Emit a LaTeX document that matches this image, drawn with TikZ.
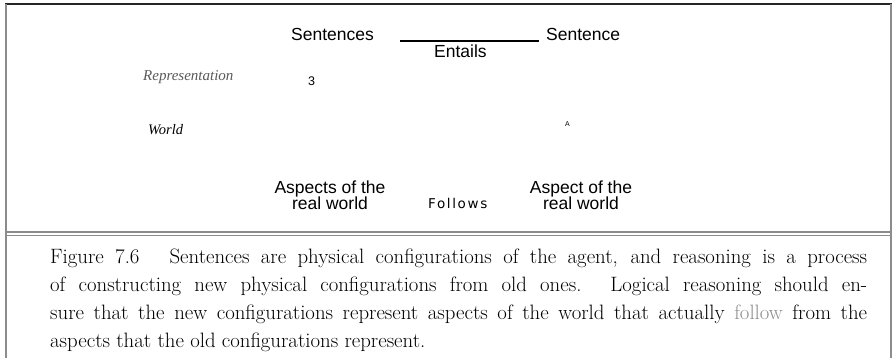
\documentclass[tikz,border=0pt]{standalone}
\usepackage{fontspec}
\newfontfamily\labelfont{Liberation Sans}
\newfontfamily\worldfont{Liberation Serif}
\newfontfamily\followfont[LetterSpace=12]{DejaVu Sans}
\usetikzlibrary{calc}
\usetikzlibrary{positioning}

\begin{document}
\begin{tikzpicture}[
  x=1pt,y=-1pt,
  line cap=butt,line join=round
]
  \tikzset{
    lbl/.style={inner sep=0pt, anchor=base west, font=\labelfont\fontsize{17.5}{18}\selectfont},
    twoline/.style={inner sep=0pt, align=center, anchor=base, font=\labelfont\fontsize{17.5}{17}\selectfont},
    ital/.style={inner sep=0pt, anchor=base west, font=\worldfont\itshape\fontsize{15}{17}\selectfont},
    tiny/.style={inner sep=0pt, anchor=base west, font=\labelfont\fontsize{#1}{#1}\selectfont},
    link/.style={line width=1.1pt, draw=black},
    rule/.style={line width=1.7pt, draw=black!45},
    caption/.style={inner sep=0pt, anchor=base west, text width=817pt, align=justify,
      font=\fontsize{20.8}{28}\selectfont}
  }
  \useasboundingbox (0,0) rectangle (894,358);

  % Frame
  \draw[line width=1.5pt, draw=black!85] (5,4) -- (892,4);
  \draw[rule] (6,4) -- (6,358);
  \draw[rule] (891,4) -- (891,358);
  \draw[rule] (6,232) -- (891,232);
  \draw[rule] (6,235.6) -- (891,235.6);

  % Sentence level
  \node[lbl] (sents) at (291,41) {Sentences};
  \node[lbl] (sent)  at (546,41) {Sentence};
  \node[lbl] (entails) at (434,58) {Entails};
  \coordinate (entstart) at (400,41);
  \draw[link] (entstart) -- ([xshift=-7pt]sent.base west);

  % Side labels
  \node[ital, text=black!65] (repr) at (143,81) {Representation};
  \node[ital, font=\worldfont\itshape\fontsize{14.5}{17}\selectfont] (world) at (148,135) {World};
  \node[tiny=12.5] (three) at (308,86) {3};
  \node[tiny=7] (mark) at (565,127) {A};

  % World level
  \node[twoline] (aspects) at (330,210) {Aspects of the\\real world};
  \node[twoline] (aspect)  at (581,210) {Aspect of the\\real world};
  \node[inner sep=0pt, anchor=base west, font=\followfont\fontsize{13.5}{14}\selectfont] (follows) at (428,209) {Follows};

  % Caption
  \node[caption] (cap) at (50,263) {Figure 7.6\hspace{0.9em} Sentences are physical configurations of the agent, and reasoning is a process\linebreak
    of constructing new physical configurations from old ones. Logical reasoning should en-\linebreak
    sure that the new configurations represent aspects of the world that actually {\color{black!45}follow} from the\linebreak
    aspects that the old configurations represent.\par};
\end{tikzpicture}
\end{document}
